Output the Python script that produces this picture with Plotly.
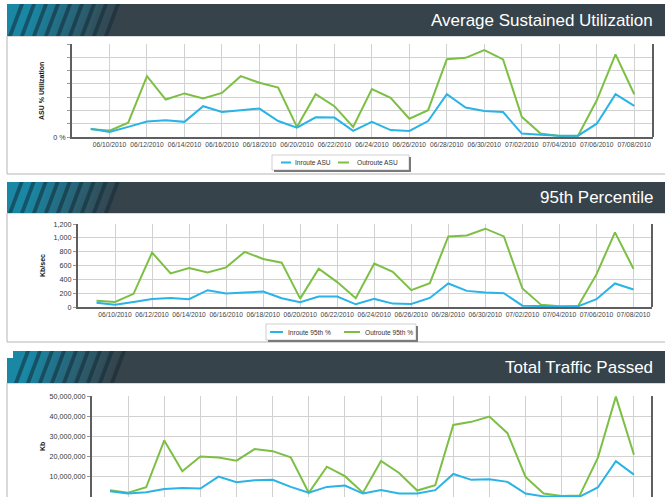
import plotly.graph_objects as go

# ---------------- data ----------------
dates = ["2010-06-09", "2010-06-10", "2010-06-11", "2010-06-12", "2010-06-13", "2010-06-14",
         "2010-06-15", "2010-06-16", "2010-06-17", "2010-06-18", "2010-06-19", "2010-06-20",
         "2010-06-21", "2010-06-22", "2010-06-23", "2010-06-24", "2010-06-25", "2010-06-26",
         "2010-06-27", "2010-06-28", "2010-06-29", "2010-06-30", "2010-07-01", "2010-07-02",
         "2010-07-03", "2010-07-04", "2010-07-05", "2010-07-06", "2010-07-07", "2010-07-08"]

tick_dates = ["2010-06-10", "2010-06-12", "2010-06-14", "2010-06-16", "2010-06-18", "2010-06-20",
              "2010-06-22", "2010-06-24", "2010-06-26", "2010-06-28", "2010-06-30", "2010-07-02",
              "2010-07-04", "2010-07-06", "2010-07-08"]
tick_labels = ["06/10/2010", "06/12/2010", "06/14/2010", "06/16/2010", "06/18/2010", "06/20/2010",
               "06/22/2010", "06/24/2010", "06/26/2010", "06/28/2010", "06/30/2010", "07/02/2010",
               "07/04/2010", "07/06/2010", "07/08/2010"]

asu_inroute = [3.1, 1.9, 3.8, 5.8, 6.3, 5.7, 11.6, 9.4, 10.1, 10.7, 6.0, 3.5, 7.4, 7.3,
               2.3, 5.7, 2.6, 2.3, 6.0, 16.1, 11.1, 9.8,
               9.4, 1.3, 0.8, 0.5, 0.5, 5.0, 16.1, 11.7]
asu_outroute = [2.9, 2.4, 5.4, 22.9, 14.1, 16.4, 14.5, 16.6, 22.9, 20.4, 18.6, 3.8, 16.1, 11.6,
                3.8, 18.0, 14.7, 6.9, 10.1, 29.3, 29.8, 32.7,
                29.2, 7.6, 1.3, 0.4, 0.5, 13.8, 31.1, 16.1]

p95_inroute = [63, 34, 73, 117, 131, 112, 243, 194, 209, 224, 126, 68, 151, 151,
               39, 117, 49, 44, 131, 340, 233, 209,
               199, 19, 15, 5, 10, 112, 340, 253]
p95_outroute = [92, 73, 190, 787, 486, 564, 500, 573, 797, 695, 641, 121, 554, 360,
                126, 627, 510, 243, 345, 1020, 1035, 1132,
                1020, 267, 34, 10, 10, 471, 1079, 554]

traffic_inroute = [2900000, 1700000, 2400000, 4000000, 4500000, 4200000, 10100000, 7300000,
                   8300000, 8500000, 5000000, 2100000, 5000000, 5700000,
                   1700000, 3400000, 1700000, 1700000, 3400000, 11400000, 8500000, 8800000,
                   7500000, 1700000, 300000, 100000, 200000, 4700000, 17700000, 11100000]
traffic_outroute = [3400000, 2100000, 4800000, 28000000, 12700000, 20100000, 19600000, 18000000,
                    23700000, 22700000, 19600000, 2100000, 15000000, 10300000,
                    2100000, 17800000, 11900000, 3200000, 5800000, 35700000, 37200000, 39800000,
                    31600000, 9900000, 1700000, 500000, 800000, 19300000, 49700000, 20900000]

panel_titles = ["Average Sustained Utilization", "95th Percentile", "Total Traffic Passed"]
y_titles = ["ASU % Utilization", "Kb/sec", "Kb"]
legend1_names = ["Inroute ASU", "Outroute ASU"]
legend2_names = ["Inroute 95th %", "Outroute 95th %"]

# ---------------- styling helpers ----------------
W, H = 665, 497
BLUE = "#2ab3e6"
GREEN = "#7dbf45"
FONT = "Liberation Sans, Arial, sans-serif"


def px(x):
    return x / W


def py(y):
    return 1 - y / H


shapes = []
annotations = []


def hex2rgb(h):
    h = h.lstrip("#")
    return tuple(int(h[i:i + 2], 16) for i in (0, 2, 4))


def mix(c1, c2, t):
    a, b = hex2rgb(c1), hex2rgb(c2)
    return "rgb(%d,%d,%d)" % tuple(round(a[i] + (b[i] - a[i]) * t) for i in range(3))


def poly(points, color, line=None):
    d = "M " + " L ".join("%.5f,%.5f" % (px(x), py(y)) for x, y in points) + " Z"
    s = dict(type="path", xref="paper", yref="paper", path=d, fillcolor=color,
             line=dict(width=0), layer="above")
    if line:
        s["line"] = line
    shapes.append(s)


def rect(x0, y0, x1, y1, fill=None, lc=None, lw=0):
    shapes.append(dict(type="rect", xref="paper", yref="paper",
                       x0=px(x0), x1=px(x1), y0=py(y1), y1=py(y0),
                       fillcolor=fill if fill else "rgba(0,0,0,0)",
                       line=dict(width=lw, color=lc if lc else "rgba(0,0,0,0)"),
                       layer="below"))


def seg(x0, y0, x1, y1, color, width):
    shapes.append(dict(type="line", xref="paper", yref="paper",
                       x0=px(x0), x1=px(x1), y0=py(y0), y1=py(y1),
                       line=dict(color=color, width=width), layer="above"))


DARK = "#36434b"
TEAL = "#1a87a4"


def header(x0, y0, y1, title, x1=668):
    hgt = y1 - y0
    slant = 12 * hgt / 32.0
    poly([(x0, y0), (x1, y0), (x1, y1), (x0, y1)], DARK)
    n = 22
    for i in range(n):
        e = 108 - i * 4  # bottom right edge
        t = 1 - (i + 1) / n
        c = mix(TEAL, DARK, t)
        poly([(x0, y1), (x0, y0), (min(e + slant, x1), y0), (e, y1)], c)
    for k in range(9):
        bx = x0 + 1 + k * 12
        w = 4
        poly([(bx, y1), (bx + slant, y0), (bx + slant + w, y0), (bx + w, y1)],
             "rgba(18,40,52,0.55)")
    annotations.append(dict(xref="paper", yref="paper", x=px(655), y=py((y0 + y1) / 2),
                            xanchor="right", yanchor="middle", showarrow=False,
                            text=title, font=dict(family=FONT, size=17, color="white")))


def ytitle(x, y, text):
    annotations.append(dict(xref="paper", yref="paper", x=px(x), y=py(y),
                            xanchor="center", yanchor="middle", showarrow=False,
                            textangle=-90, text="<b>%s</b>" % text,
                            font=dict(family=FONT, size=7, color="#111")))


def legend_box(x0, y0, x1, y1, items):
    rect(x0, y0, x1, y1, fill="white", lc="#cfcfcf", lw=1)
    seg(x1 + 1, y0 + 2, x1 + 1, y1 + 1, "#7a7a7a", 2)
    seg(x0 + 2, y1 + 1, x1 + 2, y1 + 1, "#7a7a7a", 2)
    for (lx0, lx1, tx, ly, color, name) in items:
        seg(lx0, ly, lx1, ly, color, 2)
        annotations.append(dict(xref="paper", yref="paper", x=px(tx), y=py(ly),
                                xanchor="left", yanchor="middle", showarrow=False,
                                text=name, font=dict(family=FONT, size=6.6, color="#333")))


# ---------------- panels (backgrounds) ----------------
rect(7, 36, 670, 174, fill="white", lc="#b5b5b5", lw=1)
rect(7, 213, 670, 342, fill="white", lc="#b5b5b5", lw=1)
rect(7, 383, 670, 510, fill="white", lc="#b5b5b5", lw=1)

header(7, 4, 36, panel_titles[0])
header(7, 182, 213, panel_titles[1])
poly([(7, 358), (14, 358), (14, 383), (7, 383)], TEAL)
header(13, 351, 383, panel_titles[2])

ytitle(42, 91, y_titles[0])
ytitle(42, 266, y_titles[1])
ytitle(42, 447, y_titles[2])

legend_box(272, 155, 409, 170, [
    (281, 291, 292.5, 162.5, BLUE, legend1_names[0]),
    (338, 349, 354.5, 162.5, GREEN, legend1_names[1]),
])
legend_box(266, 324, 416, 340, [
    (270, 283, 285.5, 332, BLUE, legend2_names[0]),
    (344, 360, 362.5, 332, GREEN, legend2_names[1]),
])

# ---------------- figure ----------------
fig = go.Figure()

series = [
    ("x", "y", asu_outroute, asu_inroute),
    ("x2", "y2", p95_outroute, p95_inroute),
    ("x3", "y3", traffic_outroute, traffic_inroute),
]
for xa, ya, out_vals, in_vals in series:
    fig.add_trace(go.Scatter(x=dates, y=out_vals, mode="lines", xaxis=xa, yaxis=ya,
                             line=dict(color=GREEN, width=2), showlegend=False))
    fig.add_trace(go.Scatter(x=dates, y=in_vals, mode="lines", xaxis=xa, yaxis=ya,
                             line=dict(color=BLUE, width=2), showlegend=False))

GRID = "#d2d2d2"


def xaxis(dom, anchor, show_line=True, show_labels=True):
    return dict(type="date", domain=dom, anchor=anchor, range=["2010-06-08", "2010-07-09"],
                tickmode="array", tickvals=tick_dates, ticktext=tick_labels,
                showgrid=True, gridcolor=GRID, gridwidth=1, zeroline=False,
                showline=show_line, linecolor="#5f5f5f", linewidth=2, ticks="",
                showticklabels=show_labels,
                tickfont=dict(family=FONT, size=6.7, color="#444"), automargin=False)


def yaxis(dom, anchor, rng, vals, texts=None, fmt=None):
    d = dict(domain=dom, anchor=anchor, range=rng, tickmode="array", tickvals=vals,
             showgrid=True, gridcolor=GRID, gridwidth=1, zeroline=False,
             showline=True, linecolor="#5f5f5f", linewidth=2,
             ticks="outside", ticklen=3, tickcolor="#999", tickwidth=1,
             tickfont=dict(family=FONT, size=7.2, color="#333"), automargin=False)
    if texts is not None:
        d["ticktext"] = texts
    if fmt:
        d["tickformat"] = fmt
    return d


asu_vals = [0, 5, 10, 15, 20, 25, 30, 35]
asu_text = ["0 %", "", "", "", "", "", "", ""]
p95_vals = [0, 200, 400, 600, 800, 1000, 1200]
trf_vals = [0, 10000000, 20000000, 30000000, 40000000, 50000000]

fig.update_layout(
    xaxis=xaxis([px(72), px(653)], "y"),
    yaxis=yaxis([py(137), py(44)], "x", [0, 35], asu_vals, texts=asu_text),
    xaxis2=xaxis([px(78), px(652)], "y2"),
    yaxis2=yaxis([py(307), py(224)], "x2", [0, 1200], p95_vals, fmt=","),
    xaxis3=xaxis([px(92), px(652)], "y3", show_line=False, show_labels=False),
    yaxis3=yaxis([0, py(396)], "x3", [0, 50000000], trf_vals, fmt=","),
)

# right-hand frame (dark shadowed edge) of each plot area
for xr, yr in (("x", "y"), ("x2", "y2"), ("x3", "y3")):
    shapes.append(dict(type="line", xref=xr + " domain", yref=yr + " domain",
                       x0=1, x1=1, y0=0, y1=1, line=dict(color="#5f5f5f", width=2),
                       layer="above"))

fig.update_layout(
    width=W, height=H,
    margin=dict(l=0, r=0, t=0, b=0),
    paper_bgcolor="white", plot_bgcolor="white",
    shapes=shapes, annotations=annotations,
    showlegend=False,
    font=dict(family=FONT),
)

fig.write_html("out.html", config={"displayModeBar": False},
               post_script="document.body.style.margin='0';")
